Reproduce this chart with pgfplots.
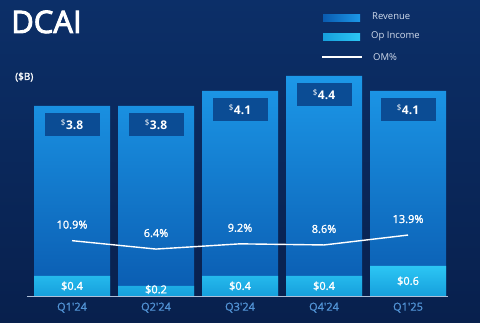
\documentclass[border=0pt]{standalone}
\usepackage{pgfplots}
\pgfplotsset{compat=1.18}
\usepackage{fontspec}
\setmainfont{Open Sans}
\newfontfamily\medfont[FakeBold=0.8]{Open Sans}
\newfontfamily\semifont[FakeBold=1.6]{Open Sans}
\newfontfamily\titlefont[FakeBold=3]{Open Sans}
\definecolor{bgtop}{HTML}{0C2F68}
\definecolor{bgbot}{HTML}{08204D}
\definecolor{revtop}{HTML}{1C98E8}
\definecolor{revbot}{HTML}{0A5BB0}
\definecolor{optop}{HTML}{2CC6F4}
\definecolor{opbot}{HTML}{169FDC}
\definecolor{boxc}{HTML}{0B4C94}
\definecolor{tickc}{HTML}{5294D6}
\definecolor{legc}{HTML}{D2DCEC}
\definecolor{axc}{HTML}{AFC0D8}
\begin{document}
\begin{tikzpicture}[x=1pt,y=1pt]
\shade[top color=bgtop, bottom color=bgbot] (0,0) rectangle (480,323);
\begin{axis}[
  at={(27pt,27pt)}, anchor=south west, scale only axis,
  width=421pt, height=226pt,
  xmin=-0.536, xmax=4.476, ymin=0, ymax=4.52,
  axis x line=bottom, axis y line=none,
  axis line style={-, draw=axc, line width=0.8pt},
  xtick={0,1,2,3,4},
  xticklabels={Q1'24,Q2'24,Q3'24,Q4'24,Q1'25},
  xtick style={draw=none},
  x tick label style={text=tickc, font=\fontsize{11}{12}\selectfont\medfont, yshift=-1pt},
  clip=false,
]
\addplot[ybar, bar width=76pt, bar shift=0pt, draw=none, top color=revtop, bottom color=revbot,
  point meta=explicit symbolic,
  nodes near coords={\textsuperscript{\$}\textbf{\pgfplotspointmeta}},
  every node near coord/.append style={anchor=north, yshift=-7pt, fill=boxc, text=white,
    minimum width=55pt, minimum height=23pt, inner sep=0pt,
    font=\fontsize{12}{12}\selectfont}]
  coordinates {(0,3.8)[3.8] (1,3.8)[3.8] (2,4.1)[4.1] (3,4.4)[4.4] (4,4.1)[4.1]};
\addplot[ybar, bar width=76pt, bar shift=0pt, draw=none, top color=optop, bottom color=opbot]
  coordinates {(0,0.4) (1,0.2) (2,0.4) (3,0.4) (4,0.6)};
\addplot[draw=none, mark=none, point meta=explicit symbolic,
  nodes near coords={\pgfplotspointmeta},
  every node near coord/.append style={anchor=center, text=white, inner sep=0pt,
    font=\fontsize{11}{12}\selectfont\semifont}]
  coordinates {(0,0.2)[\$0.4] (1,0.13)[\$0.2] (2,0.2)[\$0.4] (3,0.2)[\$0.4] (4,0.3)[\$0.6]};
\end{axis}
\begin{axis}[
  at={(27pt,27pt)}, anchor=south west, scale only axis,
  width=421pt, height=226pt,
  xmin=-0.536, xmax=4.476, ymin=-18.7, ymax=102.2,
  hide axis, clip=false,
]
\addplot[white, line width=1.4pt, mark=none, point meta=explicit symbolic,
  nodes near coords={\pgfplotspointmeta\%},
  every node near coord/.append style={anchor=center, yshift=16pt, text=white, inner sep=0pt,
    font=\fontsize{11}{12}\selectfont\semifont}]
  coordinates {(0,10.9)[10.9] (1,6.4)[6.4] (2,9.2)[9.2] (3,8.6)[8.6] (4,13.9)[13.9]};
\end{axis}
% title and unit
\node[anchor=base west, text=white, inner sep=0pt, font=\fontsize{31}{32}\selectfont\titlefont] at (11,290) {DCAI};
\node[anchor=west, text=white, inner sep=0pt, font=\fontsize{10}{11}\selectfont\semifont] at (15,246) {(\$B)};
% legend
\shade[left color=revbot, right color=revtop] (323,301) rectangle (360,308);
\shade[left color=opbot, right color=optop] (323,282) rectangle (360,289);
\draw[white, line width=2pt] (322,266) -- (362,266);
\node[anchor=west, text=legc, inner sep=0pt, font=\fontsize{9.5}{10}\selectfont] at (372,307) {Revenue};
\node[anchor=west, text=legc, inner sep=0pt, font=\fontsize{9.5}{10}\selectfont] at (371,287) {Op Income};
\node[anchor=west, text=legc, inner sep=0pt, font=\fontsize{9.5}{10}\selectfont] at (373,266) {OM\%};
\end{tikzpicture}
\end{document}
